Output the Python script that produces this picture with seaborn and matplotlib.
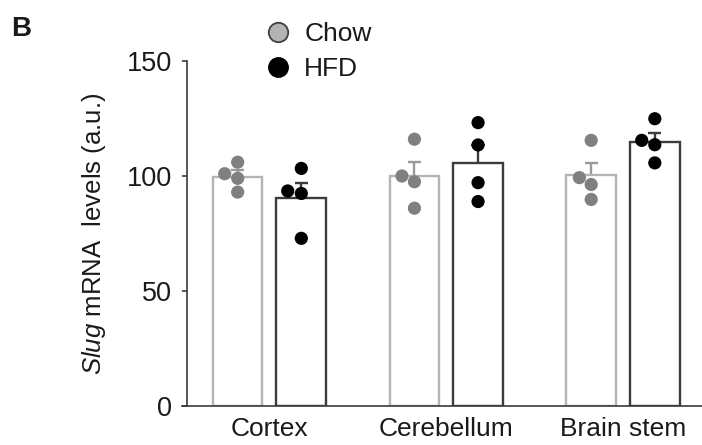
import numpy as np
import pandas as pd
import matplotlib
matplotlib.use("Agg")
import matplotlib.pyplot as plt
import matplotlib.transforms as mtransforms
from matplotlib.lines import Line2D
import seaborn as sns

# ---- data ----
regions = ["Cortex", "Cerebellum", "Brain stem"]
diets = ["Chow", "HFD"]
chow_cortex = [106.0, 101.0, 99.0, 93.0]
hfd_cortex = [103.3, 93.5, 92.4, 72.9]
chow_cerebellum = [116.0, 100.0, 97.5, 86.0]
hfd_cerebellum = [123.2, 113.5, 97.1, 88.9]
chow_brainstem = [115.5, 99.3, 96.3, 89.8]
hfd_brainstem = [124.9, 115.5, 113.6, 105.7]
y_ticks = [0, 50, 100, 150]

series = {
    ("Cortex", "Chow"): chow_cortex,
    ("Cortex", "HFD"): hfd_cortex,
    ("Cerebellum", "Chow"): chow_cerebellum,
    ("Cerebellum", "HFD"): hfd_cerebellum,
    ("Brain stem", "Chow"): chow_brainstem,
    ("Brain stem", "HFD"): hfd_brainstem,
}
rows = []
for (reg, diet), vals in series.items():
    for v in vals:
        rows.append({"region": reg, "diet": diet, "value": v})
df = pd.DataFrame(rows)

# ---- style ----
sns.set_style("white")
plt.rcParams["font.family"] = ["Liberation Sans", "DejaVu Sans"]
plt.rcParams["mathtext.fontset"] = "custom"
plt.rcParams["mathtext.rm"] = "Liberation Sans"
plt.rcParams["mathtext.it"] = "Liberation Sans:italic"

AX_COL = "#3a3a3a"
TXT_COL = "#1a1a1a"
bar_edge = {"Chow": "#b4b4b4", "HFD": "#3c3c3c"}
err_col = {"Chow": "#9a9a9a", "HFD": "#3c3c3c"}
pt_col = {"Chow": "#808080", "HFD": "#000000"}

fig = plt.figure(figsize=(7.02, 4.45), dpi=100)
ax = fig.add_axes([182 / 702, 39 / 445, 520 / 702, 345 / 445])
ax.set_xlim(-0.495, 2.447)
ax.set_ylim(0, 150)

sns.barplot(data=df, x="region", y="value", hue="diet", order=regions,
            hue_order=diets, palette=bar_edge, estimator="mean",
            errorbar="se", capsize=0.15, width=0.72, gap=0.22,
            err_kws={"linewidth": 1.7}, linewidth=1.7, legend=False, ax=ax)

# white bars with coloured edges, drawn over the lower half of the error bars
for p in ax.patches:
    fc = p.get_facecolor()
    p.set_edgecolor(fc)
    p.set_facecolor("white")
    p.set_zorder(2.5)
for ln in ax.lines:
    xd = np.asarray(ln.get_xdata(), dtype=float)
    xc = np.nanmean(xd)
    diet = "Chow" if xc - np.round(xc) < 0 else "HFD"
    ln.set_color(err_col[diet])
    ln.set_zorder(2)
    ln.set_solid_capstyle("butt")

sns.swarmplot(data=df, x="region", y="value", hue="diet", order=regions,
              hue_order=diets, palette=pt_col, dodge=True, size=9.5,
              linewidth=0, legend=False, zorder=4, ax=ax)

# align the swarms with the bar centres (bars are dodged by 0.18 instead of 0.2)
for coll in ax.collections:
    offs = coll.get_offsets()
    if len(offs) == 0:
        continue
    xc = float(np.mean(offs[:, 0]))
    sgn = np.sign(xc - np.round(xc))
    coll.set_offset_transform(mtransforms.Affine2D().translate(-sgn * 0.02, 0) + ax.transData)

ax.set_xlim(-0.495, 2.447)
ax.set_ylim(0, 150)

# axes styling
for s in ["top", "right"]:
    ax.spines[s].set_visible(False)
ax.spines["left"].set_position(("data", -0.467))
ax.spines["left"].set_bounds(0, 150)
for s in ["left", "bottom"]:
    ax.spines[s].set_color(AX_COL)
    ax.spines[s].set_linewidth(1.2)
ax.set_yticks(y_ticks)
ax.set_yticklabels([str(t) for t in y_ticks])
ax.tick_params(axis="y", direction="out", length=3.6, width=1.2, color=AX_COL,
               labelsize=19.5, labelcolor=TXT_COL, pad=7, left=True)
ax.tick_params(axis="x", length=0, labelsize=19, labelcolor=TXT_COL, pad=8)
ax.set_xlabel("")
ax.set_ylabel(r"$\mathit{Slug}$ mRNA  levels (a.u.)", fontsize=18.5, color=TXT_COL)
ax.yaxis.set_label_coords(-0.142, 0.5)

# legend
handles = [
    Line2D([], [], linestyle="none", marker="o", markersize=14,
           markerfacecolor="#b3b3b3", markeredgecolor="#404040", markeredgewidth=1.3),
    Line2D([], [], linestyle="none", marker="o", markersize=14,
           markerfacecolor="#000000", markeredgecolor="#000000"),
]
fig.legend(handles, diets, loc="upper left", bbox_to_anchor=(266 / 702, 1 - 22 / 445),
           frameon=False, fontsize=19, handlelength=0.9, handletextpad=0.55,
           labelspacing=0.42, borderpad=0, borderaxespad=0, labelcolor=TXT_COL)

fig.text(11 / 702, 1 - 36 / 445, "B", fontsize=20, fontweight="bold",
         color=TXT_COL, va="baseline", ha="left")

fig.savefig("out.png", dpi=100)
